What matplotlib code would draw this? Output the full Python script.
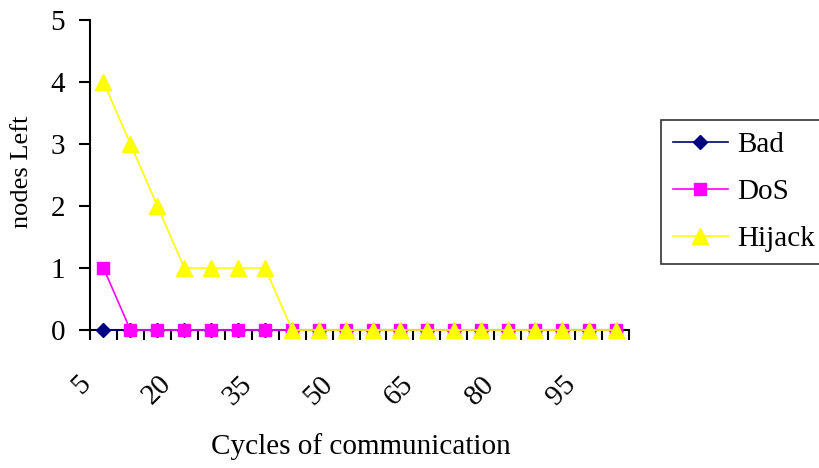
import numpy as np
import matplotlib
matplotlib.use("Agg")
import matplotlib.pyplot as plt
from matplotlib.transforms import ScaledTranslation

cycles = [5, 10, 15, 20, 25, 30, 35, 40, 45, 50, 55, 60, 65, 70, 75, 80, 85, 90, 95, 100]
bad = [0, 0, 0, 0, 0, 0, 0, 0, 0, 0, 0, 0, 0, 0, 0, 0, 0, 0, 0, 0]
dos = [1, 0, 0, 0, 0, 0, 0, 0, 0, 0, 0, 0, 0, 0, 0, 0, 0, 0, 0, 0]
hijack = [4, 3, 2, 1, 1, 1, 1, 0, 0, 0, 0, 0, 0, 0, 0, 0, 0, 0, 0, 0]
series_names = ["Bad", "DoS", "Hijack"]

plt.rcParams['font.family'] = ['Liberation Serif', 'DejaVu Serif']

W, H = 819, 468
fig = plt.figure(figsize=(W / 100, H / 100), dpi=100)
ax = fig.add_axes([90 / W, 1 - 330 / H, (629 - 90) / W, (330 - 20) / H])

x = np.arange(len(cycles))
lw = 1.2
ax.plot(x, bad, color='#000080', marker='D', markersize=7, lw=lw, label=series_names[0], clip_on=False, zorder=3)
ax.plot(x, dos, color='#FF00FF', marker='s', markersize=9, lw=lw, label=series_names[1], clip_on=False, zorder=4)
ax.plot(x, hijack, color='#FFFF00', marker='^', markersize=11, lw=lw, label=series_names[2], clip_on=False, zorder=5)

ax.set_xlim(-0.5, len(cycles) - 0.5)
ax.set_ylim(0, 5)
ax.spines['top'].set_visible(False)
ax.spines['right'].set_visible(False)
for s in ['left', 'bottom']:
    ax.spines[s].set_linewidth(1.5)
    ax.spines[s].set_color('black')

ax.set_xticks(np.arange(len(cycles) + 1) - 0.5)
ax.set_xticklabels([])
ax.tick_params(axis='x', which='major', direction='out', length=7, width=1.5)
lab_pos = x[::3]
ax.set_xticks(lab_pos, minor=True)
ax.set_xticklabels([str(c) for c in cycles[::3]], minor=True, fontsize=21)
ax.tick_params(axis='x', which='minor', length=0, pad=36)
off = ScaledTranslation(-17 / 100, 0, fig.dpi_scale_trans)
for t in ax.get_xticklabels(minor=True):
    t.set_rotation(45)
    t.set_rotation_mode('anchor')
    t.set_ha('right')
    t.set_va('center')
    t.set_transform(t.get_transform() + off)

ax.set_yticks(range(0, 6))
ax.tick_params(axis='y', direction='out', length=8, width=1.5, labelsize=21, pad=10)

fig.text(361 / W, 1 - 447 / H, "Cycles of communication", ha='center', va='center', fontsize=21)
fig.text(22 / W, 1 - 172 / H, "nodes Left", ha='center', va='center', rotation=90, fontsize=19)

leg = fig.legend(loc='center left', bbox_to_anchor=(661 / W, 1 - 192 / H), fontsize=21,
                 frameon=True, fancybox=False, edgecolor='black', handlelength=1.9,
                 borderpad=0.4, labelspacing=0.7, handletextpad=0.3, borderaxespad=0)
leg.get_frame().set_linewidth(1.2)

fig.savefig("out.png", dpi=100)
